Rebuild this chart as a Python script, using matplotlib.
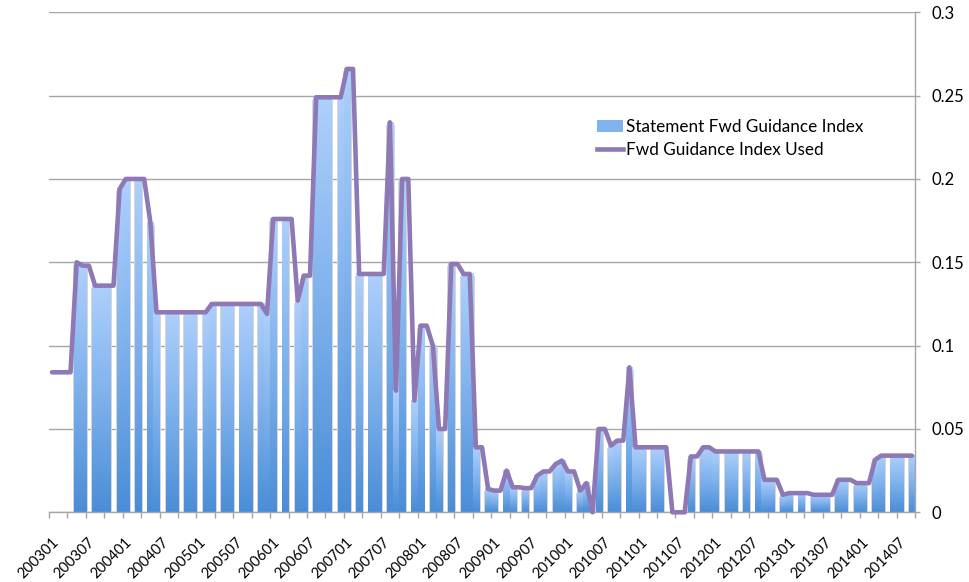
import numpy as np
import matplotlib
matplotlib.use('Agg')
import matplotlib.pyplot as plt
from matplotlib.patches import Rectangle, Patch
from matplotlib.lines import Line2D
from matplotlib.colors import LinearSegmentedColormap
from matplotlib.ticker import FuncFormatter, FixedLocator
from matplotlib import transforms

plt.rcParams['font.family'] = ['Lato', 'DejaVu Sans']

# ---- data: monthly, 200301 .. 201409 ----
months = [f'{y}{m:02d}' for y in range(2003, 2015) for m in range(1, 13)][:141]
tick_labels = months[::6]

# line: index used each month
used = [
    0.084, 0.084, 0.084, 0.084, 0.150, 0.148, 0.148, 0.136, 0.136, 0.136, 0.136, 0.194,   # 2003
    0.200, 0.200, 0.200, 0.200, 0.174, 0.120, 0.120, 0.120, 0.120, 0.120, 0.120, 0.120,   # 2004
    0.120, 0.120, 0.125, 0.125, 0.125, 0.125, 0.125, 0.125, 0.125, 0.125, 0.125, 0.119,   # 2005
    0.176, 0.176, 0.176, 0.176, 0.127, 0.142, 0.142, 0.249, 0.249, 0.249, 0.249, 0.249,   # 2006
    0.266, 0.266, 0.143, 0.143, 0.143, 0.143, 0.143, 0.234, 0.073, 0.200, 0.200, 0.067,   # 2007
    0.112, 0.112, 0.100, 0.050, 0.050, 0.149, 0.149, 0.143, 0.143, 0.039, 0.039, 0.014,   # 2008
    0.013, 0.013, 0.025, 0.015, 0.015, 0.0145, 0.0145, 0.022, 0.0245, 0.0245, 0.029, 0.031,  # 2009
    0.0245, 0.0245, 0.013, 0.0175, 0.000, 0.050, 0.050, 0.040, 0.043, 0.043, 0.087, 0.039,  # 2010
    0.039, 0.039, 0.039, 0.039, 0.039, 0.000, 0.000, 0.000, 0.0335, 0.0335, 0.039, 0.039,  # 2011
    0.0365, 0.0365, 0.0365, 0.0365, 0.0365, 0.0365, 0.0365, 0.0365, 0.0195, 0.0195, 0.0195, 0.0105,  # 2012
    0.0115, 0.0115, 0.0115, 0.0115, 0.0105, 0.0105, 0.0105, 0.0105, 0.0195, 0.0195, 0.0195, 0.0175,  # 2013
    0.0175, 0.0175, 0.0315, 0.034, 0.034, 0.034, 0.034, 0.034, 0.034,                     # 2014
]

# bars: statement index, only in months with an FOMC statement
N = None
statement = [
    N, N, N, N, 0.150, 0.148, N, 0.136, 0.136, 0.136, N, 0.194,
    0.200, N, 0.200, N, 0.174, 0.120, N, 0.120, 0.120, N, 0.120, 0.120,
    N, 0.120, 0.125, N, 0.125, 0.125, N, 0.125, 0.125, N, 0.125, 0.119,
    0.176, N, 0.176, N, 0.127, 0.142, N, 0.249, 0.249, 0.249, N, 0.249,
    0.266, N, 0.143, N, 0.143, 0.143, N, 0.234, 0.073, 0.200, N, 0.067,
    0.112, N, 0.100, 0.050, N, 0.149, N, 0.143, 0.143, 0.039, N, 0.014,
    0.013, N, 0.025, 0.015, N, 0.0145, N, 0.022, 0.0245, N, 0.029, 0.031,
    0.0245, N, 0.013, 0.0175, 0.000, 0.050, N, 0.040, 0.043, N, 0.087, 0.039,
    0.039, N, 0.039, 0.039, N, 0.000, N, 0.000, 0.0335, N, 0.039, 0.039,
    0.0365, N, 0.0365, 0.0365, N, 0.0365, N, 0.0365, 0.0195, 0.0195, N, 0.0105,
    0.0115, N, 0.0115, N, 0.0105, 0.0105, 0.0105, N, 0.0195, 0.0195, N, 0.0175,
    0.0175, N, 0.0315, 0.034, N, 0.034, 0.034, N, 0.034,
]

GRID = '#a6a6a6'
PURPLE = '#8e78b5'

fig = plt.figure(figsize=(9.69, 5.82), dpi=100)
ax = fig.add_axes([49 / 969, 1 - 512.3 / 582, 866 / 969, 500 / 582])

x = np.arange(len(months)) + 0.5
stm = np.array(statement, dtype=float)
ok = ~np.isnan(stm)

# bars with vertical gradient + soft shadow
bar_cmap = LinearSegmentedColormap.from_list('bar', ['#4a8dd7', '#7eb1ec', '#aed0fc'])
grad = np.linspace(0, 1, 256).reshape(-1, 1)
bars = ax.bar(x[ok], stm[ok], width=1.0, color='none', edgecolor='none', zorder=2)
for b in bars:
    x0, w, h = b.get_x(), b.get_width(), b.get_height()
    if h <= 0:
        continue
    ax.add_patch(Rectangle((x0 - 0.12, 0), w + 0.42, h - 0.0015, facecolor='#d6d6d6',
                           edgecolor='none', zorder=1.8))
    ax.imshow(grad, extent=(x0, x0 + w, 0, h), origin='lower', cmap=bar_cmap,
              aspect='auto', interpolation='bilinear', zorder=2)

# line
ax.plot(x, used, color=PURPLE, lw=3.3, solid_joinstyle='round',
        solid_capstyle='round', zorder=5, clip_on=False)

ax.set_xlim(0, len(months))
ax.set_ylim(0, 0.3)

# axes styling
for s in ['left', 'top']:
    ax.spines[s].set_visible(False)
for s in ['right', 'bottom']:
    ax.spines[s].set_color(GRID)
    ax.spines[s].set_linewidth(1.0)

ax.set_yticks(np.arange(0, 0.301, 0.05))
ax.yaxis.set_major_formatter(FuncFormatter(lambda v, p: f'{v:g}'))
ax.yaxis.tick_right()
ax.tick_params(axis='y', direction='out', length=3.6, width=1.0, color=GRID,
               pad=8, labelsize=12, labelcolor='black')
ax.yaxis.grid(True, color=GRID, lw=1.0)
ax.set_axisbelow(True)

ax.xaxis.set_major_locator(FixedLocator(np.arange(0, len(months) + 1, 3)))
ax.tick_params(axis='x', direction='out', length=4.3, width=1.0, color=GRID,
               labelbottom=False)

off = transforms.blended_transform_factory(ax.transData, ax.transAxes) + \
    transforms.ScaledTranslation(4 / 100, -28 / 100, fig.dpi_scale_trans)
for pos, lab in zip(x[::6], tick_labels):
    ax.text(pos, 0, lab, transform=off, rotation=45, rotation_mode='anchor',
            ha='right', va='center', fontsize=10.5, color='black')

handles = [Patch(facecolor='#80b3ee', edgecolor='none'),
           Line2D([], [], color=PURPLE, lw=3.3)]
fig.legend(handles, ['Statement Fwd Guidance Index', 'Fwd Guidance Index Used'],
           loc='upper left', bbox_to_anchor=(597 / 969, 1 - 119 / 582),
           frameon=False, fontsize=12.3, handlelength=1.5, handletextpad=0.2,
           labelspacing=0.42, borderpad=0, borderaxespad=0)

fig.savefig('out.png', dpi=100)
